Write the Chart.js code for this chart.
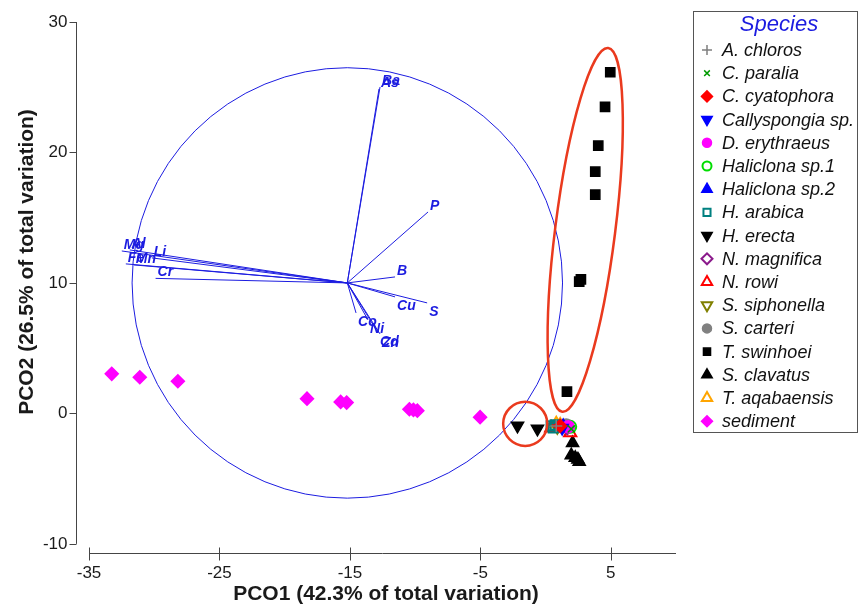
<!DOCTYPE html>
<html>
<head>
<meta charset="utf-8">
<script src="https://cdn.jsdelivr.net/npm/chart.js@4/dist/chart.umd.min.js"></script>
<style>
    html, body { margin: 0; padding: 0; background: #fff; }
    #wrap { width: 859px; height: 608px; }
</style>
</head>
<body>
<div id="wrap"><canvas id="pcoChart" width="859" height="608"></canvas></div>
<script>
// species scores on PCO1 / PCO2 ([x, y] pairs)
const speciesNames = ['A. chloros', 'C. paralia', 'C. cyatophora', 'Callyspongia sp.', 'D. erythraeus',
    'Haliclona sp.1', 'Haliclona sp.2', 'H. arabica', 'H. erecta', 'N. magnifica', 'N. rowi',
    'S. siphonella', 'S. carteri', 'T. swinhoei', 'S. clavatus', 'T. aqabaensis', 'sediment'];

const aChloros = [[0.82, -0.96]];
const cParalia = [[1.97, -1.19]];
const cCyatophora = [[1.12, -0.96]];
const callyspongia = [[1.27, -1.11]];
const dErythraeus = [[1.74, -1.03]];
const haliclona1 = [[1.89, -1.03]];
const haliclona2 = [[1.35, -0.96]];
const hArabica = [[0.43, -0.96], [0.74, -0.88], [1.05, -1.03], [0.59, -1.11]];
const hErecta = [[-2.15, -0.95], [-0.62, -1.18]];
const nMagnifica = [[1.66, -1.11]];
const nRowi = [[0.43, -1.11], [1.89, -1.49]];
const sSiphonella = [[0.90, -1.03]];
const sCarteri = [[1.58, -0.88]];
const tSwinhoei = [[4.96, 26.15], [4.56, 23.49], [4.04, 20.53], [3.81, 18.53], [3.81, 16.77],
    [2.71, 10.28], [2.58, 10.10], [1.64, 1.67]];
const sClavatus = [[2.07, -2.26], [1.97, -3.20], [2.28, -3.40], [2.48, -3.53], [2.58, -3.71]];
const tAqabaensis = [[0.82, -0.80], [1.12, -0.88]];
const sediment = [[-33.26, 3.03], [-31.11, 2.77], [-28.19, 2.46], [-18.29, 1.13], [-15.71, 0.88],
    [-15.25, 0.83], [-10.44, 0.32], [-10.13, 0.27], [-9.83, 0.21], [-5.02, -0.29]];

const speciesData = [aChloros, cParalia, cCyatophora, callyspongia, dErythraeus, haliclona1, haliclona2,
    hArabica, hErecta, nMagnifica, nRowi, sSiphonella, sCarteri, tSwinhoei, sClavatus, tAqabaensis, sediment];

// element vectors (overlay), all starting at the same origin
const vectorOrigin = [-15.2, 10.0];
const vectorNames = ['Ba', 'As', 'P', 'B', 'Cu', 'S', 'Co', 'Ni', 'Cd', 'Zn', 'Mg', 'Al', 'Fe', 'Mn', 'Li', 'Cr'];
const vectorX = [-12.69, -12.77, -9.01, -11.54, -11.54, -9.08, -14.53, -13.61, -12.84, -12.69,
    -32.49, -31.88, -32.18, -31.57, -30.19, -29.9];
const vectorY = [25.02, 24.87, 15.44, 10.46, 8.93, 8.47, 7.70, 7.16, 6.17, 6.09,
    12.45, 12.53, 11.46, 11.38, 11.92, 10.35];
const circleRadius = 16.5;

const xTicks = [-35, -25, -15, -5, 5];
const yTicks = [-10, 0, 10, 20, 30];

// marker look for each species, same order as speciesNames
const markerStyles = [
    { pointStyle: 'cross', color: '#7f7f7f' },
    { pointStyle: 'crossRot', color: '#009a00' },
    { pointStyle: 'rectRot', color: '#ff0000' },
    { pointStyle: 'triangle', color: '#0000ff', rotation: 180 },
    { pointStyle: 'circle', color: '#ff00ff' },
    { pointStyle: 'circle', color: '#00dd00', open: true },
    { pointStyle: 'triangle', color: '#0000ff' },
    { pointStyle: 'rect', color: '#008080', open: true },
    { pointStyle: 'triangle', color: '#000000', rotation: 180 },
    { pointStyle: 'rectRot', color: '#8b1a8b', open: true },
    { pointStyle: 'triangle', color: '#ff0000', open: true },
    { pointStyle: 'triangle', color: '#808000', open: true, rotation: 180 },
    { pointStyle: 'circle', color: '#808080' },
    { pointStyle: 'rect', color: '#000000' },
    { pointStyle: 'triangle', color: '#000000' },
    { pointStyle: 'triangle', color: '#ffa500', open: true },
    { pointStyle: 'rectRot', color: '#ff00ff' }
];
const dataRadius = { cross: 6, crossRot: 5, rectRot: 6.5, triangle: 7, circle: 6, rect: 6.5 };
const legendRadius = { cross: 5, crossRot: 4, rectRot: 5.5, triangle: 6, circle: 4.5, rect: 5 };

const FONT = "Arial, 'Liberation Sans', Helvetica, sans-serif";
const BLUE = '#1c1ce0';

const datasets = speciesNames.map(function(name, i) {
    const m = markerStyles[i];
    return {
        label: name,
        data: speciesData[i].map(function(p) { return { x: p[0], y: p[1] }; }),
        pointStyle: m.pointStyle,
        pointRotation: m.rotation || 0,
        pointRadius: dataRadius[m.pointStyle],
        pointBorderWidth: m.open ? 2 : 1.5,
        pointBorderColor: m.color,
        pointBackgroundColor: m.open ? 'rgba(0,0,0,0)' : m.color,
        showLine: false,
        order: 0
    };
});

// vectors drawn as two-point lines under the species
vectorNames.forEach(function(name, i) {
    datasets.push({
        label: 'vec-' + name,
        data: [{ x: vectorOrigin[0], y: vectorOrigin[1] }, { x: vectorX[i], y: vectorY[i] }],
        showLine: true,
        borderColor: BLUE,
        borderWidth: 1,
        pointRadius: 0,
        order: 10
    });
});

// correlation circle, vector labels and the red group outlines
const overlayPlugin = {
    id: 'overlay',
    beforeDatasetsDraw(chart) {
        const ctx = chart.ctx, xs = chart.scales.x, ys = chart.scales.y;
        const cx = xs.getPixelForValue(vectorOrigin[0]);
        const cy = ys.getPixelForValue(vectorOrigin[1]);
        const r = xs.getPixelForValue(vectorOrigin[0] + circleRadius) - cx;
        ctx.save();
        ctx.strokeStyle = BLUE;
        ctx.lineWidth = 1;
        ctx.beginPath();
        ctx.arc(cx, cy, r, 0, Math.PI * 2);
        ctx.stroke();
        ctx.restore();
    },
    afterDatasetsDraw(chart) {
        const ctx = chart.ctx, xs = chart.scales.x, ys = chart.scales.y;
        const oy = ys.getPixelForValue(vectorOrigin[1]);
        ctx.save();
        ctx.fillStyle = BLUE;
        ctx.font = 'bold italic 14px ' + FONT;
        ctx.textAlign = 'left';
        vectorNames.forEach(function(name, i) {
            const px = xs.getPixelForValue(vectorX[i]);
            const py = ys.getPixelForValue(vectorY[i]);
            if (py < oy) {
                ctx.textBaseline = 'alphabetic';
                ctx.fillText(name, px + 2, py - 2);
            } else {
                ctx.textBaseline = 'top';
                ctx.fillText(name, px + 2, py + 2);
            }
        });

        // red outlines around the T. swinhoei group and the H. erecta pair
        ctx.strokeStyle = '#ea3a1e';
        ctx.lineWidth = 2.5;
        const ex = xs.getPixelForValue(3.04), ey = ys.getPixelForValue(14.06);
        const ea = ys.getPixelForValue(0) - ys.getPixelForValue(14.05);
        const eb = xs.getPixelForValue(2.3) - xs.getPixelForValue(0);
        ctx.beginPath();
        ctx.ellipse(ex, ey, eb, ea, 7.2 * Math.PI / 180, 0, Math.PI * 2);
        ctx.stroke();
        const sx = xs.getPixelForValue(-1.56), sy = ys.getPixelForValue(-0.8);
        const sr = xs.getPixelForValue(1.69) - xs.getPixelForValue(0);
        ctx.beginPath();
        ctx.arc(sx, sy, sr, 0, Math.PI * 2);
        ctx.stroke();
        ctx.restore();
    }
};

// detached axes in the PRIMER style
const axesPlugin = {
    id: 'pcoAxes',
    afterDraw(chart) {
        const ctx = chart.ctx, xs = chart.scales.x, ys = chart.scales.y, area = chart.chartArea;
        ctx.save();
        ctx.strokeStyle = '#454545';
        ctx.lineWidth = 1;
        const ax = Math.round(area.left) + 0.5;
        const ay = Math.round(area.bottom) + 0.5;
        ctx.beginPath();
        ctx.moveTo(ax, ys.getPixelForValue(yTicks[yTicks.length - 1]));
        ctx.lineTo(ax, ys.getPixelForValue(yTicks[0]));
        yTicks.forEach(function(t) {
            const p = Math.round(ys.getPixelForValue(t)) + 0.5;
            ctx.moveTo(ax - 7, p);
            ctx.lineTo(ax, p);
        });
        ctx.moveTo(xs.getPixelForValue(xTicks[0]), ay);
        ctx.lineTo(area.right, ay);
        xTicks.forEach(function(t) {
            const p = Math.round(xs.getPixelForValue(t)) + 0.5;
            ctx.moveTo(p, ay - 6);
            ctx.lineTo(p, ay + 7);
        });
        ctx.stroke();

        ctx.fillStyle = '#1a1a1a';
        ctx.font = '17px ' + FONT;
        ctx.textAlign = 'right';
        ctx.textBaseline = 'middle';
        yTicks.forEach(function(t) {
            ctx.fillText(String(t), ax - 9, ys.getPixelForValue(t));
        });
        ctx.textAlign = 'center';
        ctx.textBaseline = 'top';
        xTicks.forEach(function(t) {
            ctx.fillText(String(t), xs.getPixelForValue(t), ay + 11);
        });

        ctx.font = 'bold 21px ' + FONT;
        ctx.textBaseline = 'middle';
        ctx.fillText('PCO1 (42.3% of total variation)', 386, 594);
        ctx.translate(27, 262);
        ctx.rotate(-Math.PI / 2);
        ctx.fillText('PCO2 (26.5% of total variation)', 0, 0);
        ctx.restore();
    }
};

// boxed legend on the right
const legendPlugin = {
    id: 'speciesLegend',
    afterDraw(chart) {
        const ctx = chart.ctx;
        const draw = Chart.helpers && Chart.helpers.drawPoint;
        ctx.save();
        ctx.strokeStyle = '#555';
        ctx.lineWidth = 1;
        ctx.strokeRect(693.5, 11.5, 164, 421);
        ctx.fillStyle = BLUE;
        ctx.font = 'italic 22px ' + FONT;
        ctx.textAlign = 'center';
        ctx.textBaseline = 'middle';
        ctx.fillText('Species', 779, 25);
        ctx.font = 'italic 18px ' + FONT;
        ctx.textAlign = 'left';
        speciesNames.forEach(function(name, i) {
            const y = 50 + i * 23.2;
            const m = markerStyles[i];
            ctx.fillStyle = m.open ? 'rgba(0,0,0,0)' : m.color;
            ctx.strokeStyle = m.color;
            ctx.lineWidth = m.open ? 2 : 1.5;
            if (draw) {
                draw(ctx, {
                    pointStyle: m.pointStyle,
                    rotation: m.rotation || 0,
                    radius: legendRadius[m.pointStyle],
                    borderWidth: ctx.lineWidth
                }, 707, y);
            }
            ctx.fillStyle = '#111';
            ctx.fillText(name, 722, y + 1);
        });
        ctx.restore();
    }
};

const chart = new Chart(document.getElementById('pcoChart').getContext('2d'), {
    type: 'scatter',
    data: { datasets: datasets },
    options: {
        responsive: false,
        animation: false,
        events: [],
        layout: { padding: { left: 76, right: 183, top: 22, bottom: 55 } },
        scales: {
            x: { type: 'linear', min: -36, max: 10, display: false },
            y: { type: 'linear', min: -10.7, max: 30, display: false }
        },
        plugins: {
            legend: { display: false },
            tooltip: { enabled: false }
        }
    },
    plugins: [overlayPlugin, axesPlugin, legendPlugin]
});
</script>
</body>
</html>
